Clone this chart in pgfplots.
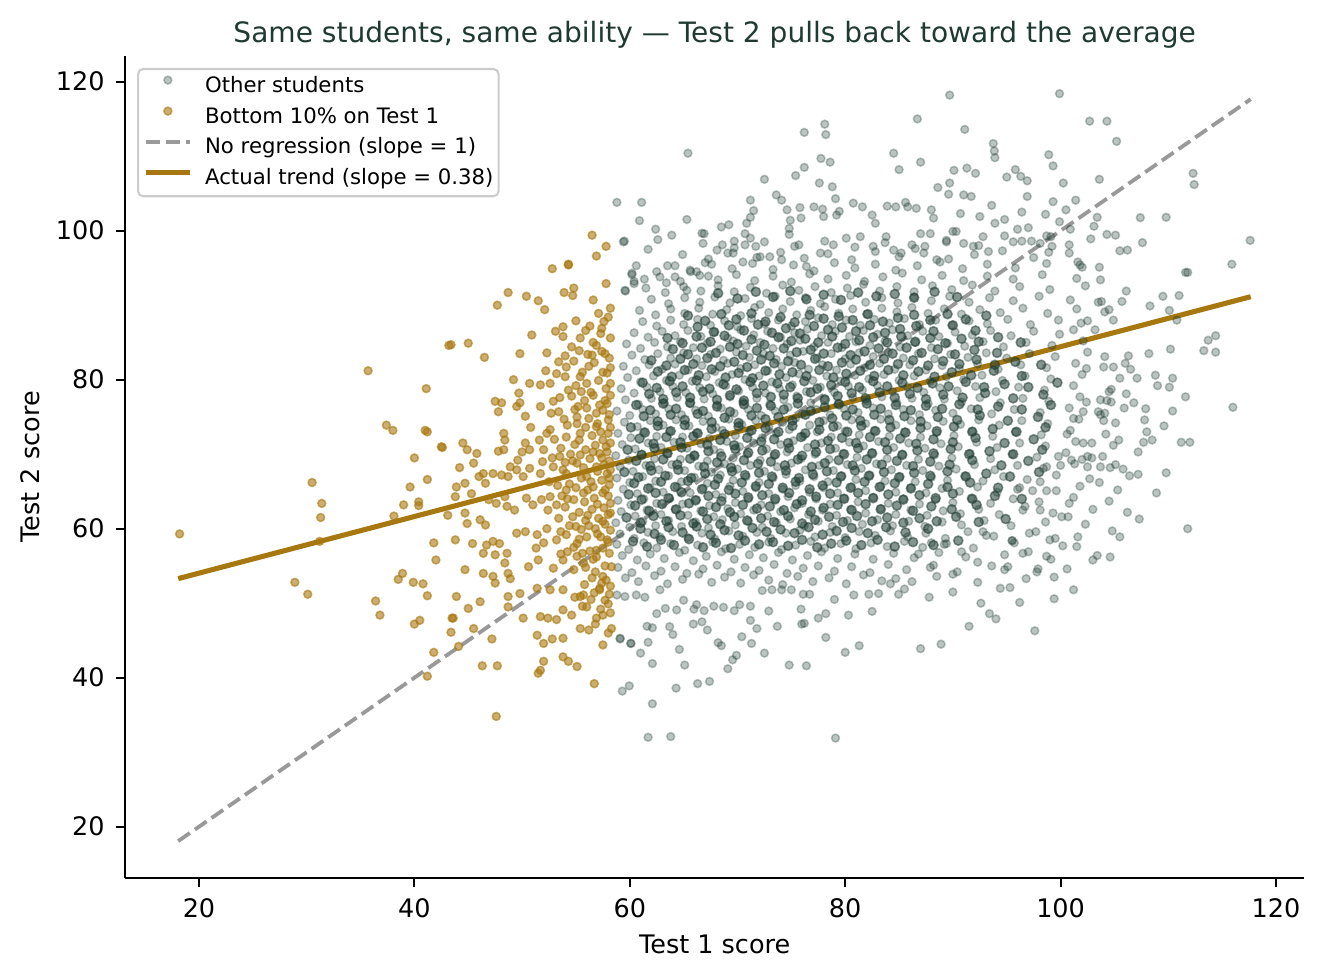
\documentclass[border=0pt]{standalone}
\usepackage{fontspec}
\setmainfont{DejaVu Sans}
\usepackage{pgfplots}
\pgfplotsset{compat=1.18}
\definecolor{darkc}{RGB}{31,61,51}
\definecolor{goldc}{RGB}{168,120,16}
\definecolor{titlec}{RGB}{31,58,50}
\definecolor{dashc}{RGB}{153,153,153}
\pgfplotsset{
  mylegmark/.style={legend image code/.code={\path[draw=none,fill=none] (0pt,2.6pt) -- (17.4pt,2.6pt); \draw[##1, draw=none] plot coordinates {(8.7pt,2.6pt)};}},
  myleglinee/.style={legend image code/.code={\draw[##1] (0pt,2.6pt) -- (17.4pt,2.6pt);}}
}
\begin{document}
\begin{tikzpicture}
\path[use as bounding box] (-49.02pt,-39.72pt) rectangle (469.8pt,344.2pt);
\begin{axis}[
  scale only axis,
  width=462.47pt, height=322.24pt,
  xmin=13.13, xmax=122.63, ymin=13.15, ymax=123.45,
  axis x line*=bottom, axis y line*=left,
  axis line style={-, line width=0.8pt, black},
  xtick={20,40,60,80,100,120}, ytick={20,40,60,80,100,120},
  tick align=outside, major tick length=3.5pt,
  major tick style={line width=0.8pt, black},
  /pgf/number format/assume math mode=true,
  ticklabel style={font=\fontsize{10}{12}\selectfont},
  xticklabel style={yshift=-1pt},
  yticklabel style={xshift=-1pt},
  title={Same students, same ability — Test 2 pulls back toward the average},
  title style={at={(axis description cs:0.5,1)}, anchor=base, yshift=-0.7pt, font=\fontsize{11}{13}\selectfont, text=titlec},
  xlabel={Test 1 score},
  xlabel style={at={([yshift=-29.9pt]axis description cs:0.5,0)}, anchor=base, font=\fontsize{10}{12}\selectfont},
  ylabel={Test 2 score},
  ylabel style={at={([xshift=-33.7pt]axis description cs:0,0.5)}, anchor=base, rotate=0, font=\fontsize{10}{12}\selectfont},
  legend cell align=left,
  legend style={at={(0.0102,0.9854)}, anchor=north west, draw=black!20, line width=0.8pt, rounded corners=2pt,
    fill=white, fill opacity=0.8, text opacity=1, inner xsep=2pt, inner ysep=2.8pt,
    font=\fontsize{8.33}{10}\selectfont, row sep=4pt,
    nodes={inner sep=0pt, text height=6.2pt, text depth=1.8pt},
    /tikz/every odd column/.append style={column sep=4.9pt}},
  clip=false,
]
% Other students (outer cloud)
\addplot[only marks, mark=*, mark size=1.55pt, mark options={draw=darkc, fill=darkc, line width=0.6pt, opacity=0.3}, mylegmark]
coordinates {
(59.6,53.4)(60.8,52.9)(62.3,53.7)(63.5,52.6)(64.9,53.2)(66.4,53.9)(67.6,52.8)(68.8,53.5)(70.3,52.7)(71.5,53.8)(72.9,53.1)(74.2,52.5)(75.6,53.6)(77.0,52.9)(78.5,53.4)(80.1,52.6)(81.7,53.8)(83.4,53.0)(86.2,52.9)(88.5,53.6)(92.3,52.8)(96.8,53.3)
(58.9,54.8)(60.2,54.1)(61.5,55.0)(62.9,54.3)(64.2,54.9)(65.3,54.0)(66.8,54.6)(68.1,55.1)(69.4,54.2)(70.7,54.8)(72.0,54.4)(73.4,55.2)(74.6,54.0)(76.1,54.7)(77.5,55.0)(79.0,54.3)(80.6,54.9)(82.3,54.1)(84.0,55.2)(85.7,54.5)(87.9,54.8)(90.4,54.2)(93.6,55.0)(97.9,54.6)
(59.3,56.4)(60.7,55.8)(61.9,56.6)(63.2,56.0)(64.6,56.8)(65.9,55.7)(67.1,56.3)(68.5,56.9)(69.7,55.9)(71.1,56.5)(72.4,56.1)(73.8,56.8)(75.1,55.8)(76.5,56.4)(77.8,56.9)(79.3,56.0)(80.9,56.6)(82.6,55.9)(84.5,56.7)(86.4,56.1)(88.7,56.8)(91.2,56.2)(94.8,56.5)(99.1,55.9)(103.4,56.4)
(58.8,57.9)(59.9,57.2)(61.3,58.1)(62.5,57.4)(63.8,58.0)(65.1,57.1)(66.3,57.8)(67.7,58.2)(68.9,57.3)(70.2,57.9)(71.6,57.5)(72.9,58.2)(74.1,57.2)(75.4,57.8)(76.8,58.3)(78.1,57.4)(79.6,58.0)(81.0,57.3)(82.4,58.1)(83.9,57.6)(85.5,58.3)(87.2,57.5)(89.4,58.0)(91.9,57.4)(95.7,58.1)(100.2,57.7)
(59.1,59.3)(60.4,58.7)(61.7,59.5)(62.8,58.9)(64.0,59.6)(65.4,58.8)(66.7,59.4)(67.9,58.6)(69.2,59.7)(70.5,59.0)(71.8,59.5)(73.1,58.7)(74.5,59.4)(75.8,59.8)(77.2,58.9)(78.6,59.5)(80.0,58.8)(81.3,59.6)(82.8,59.1)(84.2,59.7)(85.8,58.9)(87.5,59.4)(89.3,58.7)(91.4,59.6)(93.8,59.0)(97.1,59.4)(101.6,58.9)(104.8,59.7)
(58.7,60.8)(60.0,60.2)(61.2,61.0)(62.4,60.4)(63.6,61.1)(64.8,60.3)(66.1,60.9)(67.3,60.1)(68.6,61.2)(69.8,60.5)(71.0,61.0)(72.3,60.2)(73.6,60.8)(74.9,61.3)(76.2,60.4)(77.5,61.0)(78.8,60.3)(80.2,61.1)(81.6,60.6)(83.0,61.2)(84.4,60.4)(85.9,61.0)(87.4,60.3)(89.0,60.9)(90.8,60.5)(92.9,61.1)(95.4,60.4)(98.6,60.9)(102.3,60.6)
(59.2,62.3)(60.5,61.7)(61.6,62.5)(62.9,61.9)(64.2,62.6)(65.4,61.8)(66.6,62.4)(67.8,61.6)(69.1,62.7)(70.3,62.0)(71.5,62.5)(72.8,61.7)(74.0,62.3)(75.3,62.8)(76.6,61.9)(77.9,62.5)(79.2,61.8)(80.5,62.6)(81.9,62.1)(83.3,62.7)(84.7,61.9)(86.1,62.5)(87.6,61.8)(89.1,62.4)(90.7,62.0)(92.4,62.6)(94.3,61.9)(96.5,62.5)(99.3,62.1)(103.0,62.6)(106.2,62.2)
(58.9,63.8)(60.1,63.2)(61.3,64.0)(62.5,63.4)(63.7,64.1)(64.9,63.3)(66.2,63.9)(67.4,63.1)(68.6,64.2)(69.8,63.5)(71.0,64.0)(72.2,63.2)(73.5,63.8)(74.7,64.3)(76.0,63.4)(77.3,64.0)(78.6,63.3)(79.9,64.1)(81.2,63.6)(82.6,64.2)(84.0,63.4)(85.4,64.0)(86.9,63.3)(88.4,63.9)(90.0,63.5)(91.7,64.1)(93.5,63.4)(95.6,64.0)(98.0,63.6)(101.2,64.2)(104.5,63.7)
(59.4,65.3)(60.7,64.7)(61.9,65.5)(63.1,64.9)(64.4,65.6)(65.6,64.8)(66.8,65.4)(68.0,64.6)(69.3,65.7)(70.5,65.0)(71.7,65.5)(72.9,64.7)(74.2,65.3)(75.4,65.8)(76.7,64.9)(78.0,65.5)(79.3,64.8)(80.6,65.6)(81.9,65.1)(83.3,65.7)(84.7,64.9)(86.1,65.5)(87.5,64.8)(89.0,65.4)(90.6,65.0)(92.3,65.6)(94.1,64.9)(96.2,65.5)(98.7,65.1)(101.8,65.7)(105.3,65.2)(108.9,64.8)
(58.8,66.8)(60.0,66.2)(61.2,67.0)(62.4,66.4)(63.6,67.1)(64.8,66.3)(66.0,66.9)(67.2,66.1)(68.4,67.2)(69.6,66.5)(70.8,67.0)(72.0,66.2)(73.3,66.8)(74.5,67.3)(75.8,66.4)(77.1,67.0)(78.4,66.3)(79.7,67.1)(81.0,66.6)(82.3,67.2)(83.7,66.4)(85.1,67.0)(86.5,66.3)(88.0,66.9)(89.5,66.5)(91.1,67.1)(92.8,66.4)(94.7,67.0)(96.9,66.6)(99.6,67.2)(102.7,66.7)(106.4,67.1)
(59.1,68.3)(60.3,67.7)(61.5,68.5)(62.7,67.9)(63.9,68.6)(65.1,67.8)(66.4,68.4)(67.6,67.6)(68.8,68.7)(70.0,68.0)(71.2,68.5)(72.5,67.7)(73.7,68.3)(75.0,68.8)(76.3,67.9)(77.6,68.5)(78.9,67.8)(80.2,68.6)(81.5,68.1)(82.9,68.7)(84.3,67.9)(85.7,68.5)(87.2,67.8)(88.7,68.4)(90.3,68.0)(92.0,68.6)(93.9,67.9)(96.0,68.5)(98.4,68.1)(101.3,68.7)(104.6,68.2)(109.8,67.5)
(58.7,69.8)(59.9,69.2)(61.1,70.0)(62.3,69.4)(63.5,70.1)(64.7,69.3)(66.0,69.9)(67.2,69.1)(68.4,70.2)(69.6,69.5)(70.9,70.0)(72.1,69.2)(73.4,69.8)(74.6,70.3)(75.9,69.4)(77.2,70.0)(78.5,69.3)(79.8,70.1)(81.1,69.6)(82.5,70.2)(83.9,69.4)(85.3,70.0)(86.8,69.3)(88.3,69.9)(89.9,69.5)(91.6,70.1)(93.5,69.4)(95.5,70.0)(97.8,69.6)(100.5,70.2)(103.9,69.7)(107.2,70.3)
(59.3,71.3)(60.5,70.7)(61.7,71.5)(62.9,70.9)(64.1,71.6)(65.3,70.8)(66.6,71.4)(67.8,70.6)(69.0,71.7)(70.2,71.0)(71.5,71.5)(72.7,70.7)(74.0,71.3)(75.2,71.8)(76.5,70.9)(77.8,71.5)(79.1,70.8)(80.4,71.6)(81.7,71.1)(83.1,71.7)(84.5,70.9)(85.9,71.5)(87.4,70.8)(88.9,71.4)(90.5,71.0)(92.2,71.6)(94.1,70.9)(96.2,71.5)(98.6,71.1)(101.4,71.7)(104.9,71.2)(112.0,71.6)
(58.9,72.8)(60.1,72.2)(61.3,73.0)(62.5,72.4)(63.7,73.1)(64.9,72.3)(66.2,72.9)(67.4,72.1)(68.6,73.2)(69.8,72.5)(71.1,73.0)(72.3,72.2)(73.6,72.8)(74.8,73.3)(76.1,72.4)(77.4,73.0)(78.7,72.3)(80.0,73.1)(81.3,72.6)(82.7,73.2)(84.1,72.4)(85.5,73.0)(87.0,72.3)(88.5,72.9)(90.1,72.5)(91.8,73.1)(93.7,72.4)(95.8,73.0)(98.2,72.6)(100.9,73.2)(104.2,72.7)(108.0,73.0)
(59.5,74.3)(60.7,73.7)(61.9,74.5)(63.1,73.9)(64.3,74.6)(65.5,73.8)(66.8,74.4)(68.0,73.6)(69.2,74.7)(70.4,74.0)(71.7,74.5)(72.9,73.7)(74.2,74.3)(75.4,74.8)(76.7,73.9)(78.0,74.5)(79.3,73.8)(80.6,74.6)(81.9,74.1)(83.3,74.7)(84.7,73.9)(86.1,74.5)(87.6,73.8)(89.1,74.4)(90.7,74.0)(92.4,74.6)(94.3,73.9)(96.4,74.5)(98.8,74.1)(101.7,74.7)(105.1,74.2)(109.6,73.8)
(58.8,75.8)(60.0,75.2)(61.2,76.0)(62.4,75.4)(63.6,76.1)(64.8,75.3)(66.1,75.9)(67.3,75.1)(68.5,76.2)(69.7,75.5)(71.0,76.0)(72.2,75.2)(73.5,75.8)(74.7,76.3)(76.0,75.4)(77.3,76.0)(78.6,75.3)(79.9,76.1)(81.2,75.6)(82.6,76.2)(84.0,75.4)(85.4,76.0)(86.9,75.3)(88.4,75.9)(90.0,75.5)(91.7,76.1)(93.6,75.4)(95.7,76.0)(98.1,75.6)(100.8,76.2)(103.5,75.7)(107.9,76.1)
(59.6,77.3)(60.8,76.7)(62.0,77.5)(63.2,76.9)(64.4,77.6)(65.6,76.8)(66.9,77.4)(68.1,76.6)(69.3,77.7)(70.5,77.0)(71.8,77.5)(73.0,76.7)(74.3,77.3)(75.5,77.8)(76.8,76.9)(78.1,77.5)(79.4,76.8)(80.7,77.6)(82.0,77.1)(83.4,77.7)(84.8,76.9)(86.2,77.5)(87.7,76.8)(89.2,77.4)(90.8,77.0)(92.5,77.6)(94.4,76.9)(96.5,77.5)(98.9,77.1)(101.8,77.7)(104.3,77.2)(106.8,76.9)
(59.2,78.8)(60.4,78.2)(61.6,79.0)(62.8,78.4)(64.0,79.1)(65.2,78.3)(66.5,78.9)(67.7,78.1)(68.9,79.2)(70.1,78.5)(71.4,79.0)(72.6,78.2)(73.9,78.8)(75.1,79.3)(76.4,78.4)(77.7,79.0)(79.0,78.3)(80.3,79.1)(81.6,78.6)(83.0,79.2)(84.4,78.4)(85.8,79.0)(87.3,78.3)(88.8,78.9)(90.4,78.5)(92.1,79.1)(94.0,78.4)(96.1,79.0)(98.5,78.6)(101.2,79.2)(104.7,78.7)(110.1,79.0)
(59.8,80.3)(61.0,79.7)(62.2,80.5)(63.4,79.9)(64.6,80.6)(65.8,79.8)(67.1,80.4)(68.3,79.6)(69.5,80.7)(70.7,80.0)(72.0,80.5)(73.2,79.7)(74.5,80.3)(75.7,80.8)(77.0,79.9)(78.3,80.5)(79.6,79.8)(80.9,80.6)(82.2,80.1)(83.6,80.7)(85.0,79.9)(86.4,80.5)(87.9,79.8)(89.4,80.4)(91.0,80.0)(92.7,80.6)(94.6,79.9)(96.7,80.5)(99.1,80.1)(102.0,80.7)(105.5,80.2)(108.8,80.6)
(59.4,81.8)(60.6,81.2)(61.8,82.0)(63.0,81.4)(64.2,82.1)(65.4,81.3)(66.7,81.9)(67.9,81.1)(69.1,82.2)(70.3,81.5)(71.6,82.0)(72.8,81.2)(74.1,81.8)(75.3,82.3)(76.6,81.4)(77.9,82.0)(79.2,81.3)(80.5,82.1)(81.8,81.6)(83.2,82.2)(84.6,81.4)(86.0,82.0)(87.5,81.3)(89.0,81.9)(90.6,81.5)(92.3,82.1)(94.2,81.4)(96.3,82.0)(98.7,81.6)(101.4,82.2)(104.0,81.7)
(60.2,83.3)(61.4,82.7)(62.6,83.5)(63.8,82.9)(65.0,83.6)(66.2,82.8)(67.5,83.4)(68.7,82.6)(69.9,83.7)(71.1,83.0)(72.4,83.5)(73.6,82.7)(74.9,83.3)(76.1,83.8)(77.4,82.9)(78.7,83.5)(80.0,82.8)(81.3,83.6)(82.6,83.1)(84.0,83.7)(85.4,82.9)(86.8,83.5)(88.3,82.8)(89.8,83.4)(91.4,83.0)(93.1,83.6)(95.0,82.9)(97.1,83.5)(99.5,83.1)(102.5,83.7)(106.3,83.2)
(59.7,84.8)(61.0,84.2)(62.3,85.0)(63.5,84.4)(64.7,85.1)(65.9,84.3)(67.2,84.9)(68.4,84.1)(69.6,85.2)(70.8,84.5)(72.1,85.0)(73.3,84.2)(74.6,84.8)(75.8,85.3)(77.1,84.4)(78.4,85.0)(79.7,84.3)(81.0,85.1)(82.3,84.6)(83.7,85.2)(85.1,84.4)(86.5,85.0)(88.0,84.3)(89.5,84.9)(91.1,84.5)(92.8,85.1)(94.7,84.4)(96.8,85.0)(99.2,84.6)(102.1,85.2)
(60.4,86.3)(61.7,85.7)(63.0,86.5)(64.2,85.9)(65.4,86.6)(66.6,85.8)(67.9,86.4)(69.1,85.6)(70.3,86.7)(71.5,86.0)(72.8,86.5)(74.0,85.7)(75.3,86.3)(76.5,86.8)(77.8,85.9)(79.1,86.5)(80.4,85.8)(81.7,86.6)(83.0,86.1)(84.4,86.7)(85.8,85.9)(87.2,86.5)(88.7,85.8)(90.2,86.4)(91.8,86.0)(93.5,86.6)(95.4,85.9)(97.5,86.5)(99.9,86.1)(103.2,86.7)
(61.2,87.8)(62.5,87.2)(63.8,88.0)(65.0,87.4)(66.3,88.1)(67.5,87.3)(68.8,87.9)(70.0,87.1)(71.3,88.2)(72.5,87.5)(73.8,88.0)(75.0,87.2)(76.3,87.8)(77.5,88.3)(78.8,87.4)(80.1,88.0)(81.4,87.3)(82.7,88.1)(84.1,87.6)(85.5,88.2)(86.9,87.4)(88.4,88.0)(89.9,87.3)(91.5,87.9)(93.2,87.5)(95.1,88.1)(97.2,87.4)(99.8,88.0)(101.9,87.6)
(60.9,89.3)(62.4,88.7)(63.8,89.5)(65.1,88.9)(66.4,89.6)(67.7,88.8)(69.0,89.4)(70.3,88.6)(71.6,89.7)(72.9,89.0)(74.2,89.5)(75.5,88.7)(76.8,89.3)(78.1,89.8)(79.4,88.9)(80.7,89.5)(82.0,88.8)(83.4,89.6)(84.8,89.1)(86.2,89.7)(87.7,88.9)(89.2,89.5)(90.8,88.8)(92.5,89.4)(94.4,89.0)(96.5,89.6)(98.8,88.9)(101.5,89.5)(104.1,89.1)
(62.0,90.8)(63.6,90.2)(65.1,91.0)(66.5,90.4)(67.9,91.1)(69.3,90.3)(70.7,90.9)(72.1,90.1)(73.5,91.2)(74.9,90.5)(76.3,91.0)(77.7,90.2)(79.1,90.8)(80.5,91.3)(81.9,90.4)(83.4,91.0)(84.9,90.3)(86.4,91.1)(88.0,90.6)(89.7,91.2)(91.5,90.4)(93.4,91.0)(95.6,90.6)(98.0,91.2)(100.9,90.7)
(61.5,92.3)(63.3,91.7)(65.0,92.5)(66.6,91.9)(68.2,92.6)(69.7,91.8)(71.2,92.4)(72.7,91.6)(74.2,92.7)(75.7,92.0)(77.2,92.5)(78.7,91.7)(80.2,92.3)(81.7,92.8)(83.2,91.9)(84.8,92.5)(86.4,91.8)(88.1,92.6)(89.9,92.1)(91.8,92.7)(93.9,91.9)(96.2,92.5)(99.0,92.1)(102.3,92.6)
(62.8,93.8)(64.7,93.2)(66.5,94.0)(68.2,93.4)(69.9,94.1)(71.6,93.3)(73.3,93.9)(75.0,93.1)(76.7,94.2)(78.4,93.5)(80.1,94.0)(81.8,93.2)(83.5,93.8)(85.3,94.3)(87.1,93.4)(89.0,94.0)(91.0,93.3)(93.2,93.9)(95.6,93.5)(98.3,94.1)(101.5,93.6)
(63.5,95.3)(65.6,94.7)(67.6,95.5)(69.5,94.9)(71.4,95.6)(73.3,94.8)(75.2,95.4)(77.1,94.6)(79.0,95.7)(80.9,95.0)(82.8,95.5)(84.7,94.7)(86.7,95.3)(88.8,95.8)(90.9,94.9)(93.2,95.5)(95.8,95.0)(98.7,95.6)(102.0,95.1)
(64.9,96.8)(67.3,96.2)(69.6,97.0)(71.8,96.4)(74.0,97.1)(76.2,96.3)(78.4,96.9)(80.6,96.1)(82.8,97.2)(85.0,96.5)(87.3,97.0)(89.6,96.2)(92.0,96.8)(94.6,97.3)(97.5,96.4)(100.8,97.0)
(66.8,98.3)(69.7,97.7)(72.5,98.5)(75.3,97.9)(78.1,98.6)(80.9,97.8)(83.7,98.4)(86.5,97.6)(89.4,98.7)(92.4,98.0)(95.6,98.5)(99.2,97.9)
(89.7,118.2)(86.7,115.0)(91.1,113.6)(78.1,114.3)(78.2,112.9)(76.2,113.2)(65.4,110.4)(77.75,109.7)(78.6,109.2)(76.2,108.5)(75.4,107.4)(84.5,110.4)(85.0,108.2)(87.0,109.2)(90.1,108.1)(91.3,108.4)(92.1,107.7)(89.7,106.4)(89.6,104.9)(88.6,105.8)(91.0,104.8)(91.7,104.6)(93.75,111.7)(93.85,110.7)(93.9,109.8)(72.5,106.9)(77.6,106.4)(78.8,105.9)(73.6,104.8)(74.1,104.1)(79.1,104.3)(71.2,104.1)(71.5,102.7)(71.2,101.8)(70.85,101.0)(70.7,99.6)(71.2,99.0)(58.8,103.8)(61.1,103.8)(60.9,101.35)(65.3,101.5)(59.5,98.6)(61.7,97.5)(62.4,100.2)(62.6,98.8)(63.9,99.4)(66.7,99.65)(66.9,99.6)(68.5,100.5)(69.2,100.8)(69.7,98.6)(70.7,98.1)(71.7,97.9)(68.1,97.4)(69.1,97.0)(68.6,98.1)(74.6,102.8)(74.9,101.4)(74.8,100.3)(74.8,99.5)(75.8,103.1)(75.9,101.7)(77.1,103.2)(77.9,102.9)(78.0,101.9)(79.2,102.1)(79.45,102.6)(80.75,103.7)(81.6,103.2)(82.5,102.1)(82.8,101.0)(83.9,103.3)(84.7,103.2)(85.6,103.8)(85.8,103.2)(86.6,103.0)(60.2,94.1)(60.6,95.3)(60.4,92.9)(61.35,93.5)(59.55,92.0)(62.5,94.5)(63.4,93.0)(64.2,95.3)(64.2,93.8)(65.3,92.0)(65.65,94.5)(66.2,94.5)(67.0,95.7)(67.3,93.9)
(82.6,97.9)(83.8,99.2)(84.5,97.4)(85.2,97.0)(86.2,98.1)(87.4,97.9)(87.9,99.6)(88.5,96.1)(89.4,98.5)(90.3,99.9)(91.0,98.3)(91.9,97.9)(92.8,99.2)(93.3,97.2)(80.1,99.0)(81.4,99.2)(78.9,98.1)(77.7,97.0)(76.4,95.2)(75.7,98.1)(74.1,96.1)(73.0,96.5)(72.1,96.5)(70.5,95.8)(93.6,103.4)(92.5,101.9)(90.7,102.3)(90.0,99.9)(88.0,102.8)(88.2,101.7)(87.0,99.6)(93.9,101.0)
(99.9,118.4)(102.7,114.7)(104.3,114.7)(105.2,112.0)(112.3,107.7)(112.4,106.2)(98.9,110.2)(99.3,108.7)(100.25,106.4)(103.6,106.9)(95.8,108.2)(95.0,107.2)(96.3,107.3)(96.9,106.7)(96.9,104.6)(99.3,103.9)(101.4,104.1)(98.6,102.2)(100.5,102.8)(96.4,102.5)(94.8,101.5)(99.9,101.2)(103.4,101.8)(103.1,100.6)(107.4,101.75)(109.8,101.8)(107.6,98.4)(96.0,100.2)(97.0,100.4)(94.8,99.3)(96.4,98.6)(97.3,98.6)(98.1,98.3)(98.7,99.3)(99.1,99.2)(98.9,97.1)(100.9,100.2)(100.8,98.1)(102.8,98.9)(104.3,99.5)(105.1,99.4)(105.5,97.3)(106.2,97.4)(117.6,98.7)(115.9,95.5)(111.6,94.4)(111.8,94.4)(101.6,95.8)(101.8,95.4)(103.6,95.1)(103.7,93.4)(106.1,91.9)(105.7,90.5)(109.5,91.2)(111.0,91.3)(108.3,89.9)(110.1,89.3)(110.8,88.0)(104.5,89.4)(104.9,88.0)(102.5,87.9)(101.2,86.7)(103.5,90.4)(103.8,90.5)(113.3,83.9)(113.7,85.3)(114.4,85.9)(114.4,83.7)(108.2,83.5)(110.2,84.1)(104.1,83.1)(102.4,81.5)(104.9,81.7)(106.0,82.2)(106.5,81.4)(107.1,80.2)(109.0,79.2)(110.4,80.2)(111.6,77.7)(116.0,76.3)(106.1,78.1)(105.9,76.2)(104.7,77.0)(104.1,75.5)(103.7,77.3)(104.5,78.4)(107.8,74.6)(110.4,75.8)(105.4,71.9)(107.7,71.6)(108.5,71.9)(111.2,71.6)(107.2,67.3)(103.6,66.2)(105.8,68.0)(105.1,68.6)(103.7,68.3)(107.3,61.3)(111.8,60.0)
(102.1,71.5)(102.9,71.5)(102.5,68.3)(102.9,69.5)(101.0,69.2)(100.6,72.7)(99.8,69.7)(100.0,68.5)(98.7,68.3)(98.1,66.3)(99.6,65.1)(100.8,63.4)(100.1,61.6)(100.7,61.6)(99.5,58.7)(99.0,58.5)(97.7,59.6)(98.7,56.3)(96.5,56.7)(95.5,58.4)(98.1,62.5)(97.4,65.1)(96.7,63.0)(96.0,65.3)(102.0,69.3)(102.5,69.7)(101.2,74.8)(102.1,75.7)(102.4,77.0)(103.7,75.3)(104.0,74.5)
(61.7,32.0)(63.8,32.1)(79.1,31.9)(62.1,36.5)(59.3,38.2)(59.95,38.9)(64.3,38.6)(66.3,39.2)(67.4,39.5)(69.1,41.2)(69.55,42.4)(69.9,43.0)(74.8,41.7)(76.4,41.6)(80.0,43.4)(81.3,44.3)(87.0,43.9)(61.0,43.3)(62.1,41.9)(65.1,41.7)(64.6,43.8)(60.1,44.6)(61.7,44.75)(59.1,45.2)(61.6,46.9)(62.1,46.7)(63.7,46.85)(64.0,45.8)(65.9,47.2)(66.7,47.5)(67.2,46.4)(68.2,44.7)(68.5,44.3)(70.4,45.5)(71.3,44.6)(71.2,47.7)(71.8,46.6)(72.5,43.3)(73.7,46.9)(75.96,47.2)(76.2,47.3)(78.2,45.4)(77.5,48.0)(78.2,48.6)(80.3,48.4)(82.5,48.9)(79.0,50.5)(80.8,51.1)(82.2,51.2)(83.1,51.3)(84.2,52.6)(84.7,53.3)(84.96,51.2)(85.5,51.9)(87.8,50.8)(90.0,51.5)(90.0,53.9)(94.4,52.0)(94.8,54.5)(90.8,56.9)(92.3,55.5)(92.8,59.6)(93.1,59.1)(95.5,58.4)(86.8,56.6)(88.0,58.1)(88.2,55.1)(89.2,57.9)(72.9,48.95)(75.9,49.2)
(62.5,48.6)(63.3,49.3)(64.35,49.1)(65.95,49.2)(66.9,49.0)(67.8,49.6)(68.7,49.45)(69.7,49.0)(70.2,49.8)(71.2,49.6)(58.8,51.1)(59.55,50.9)(60.6,51.1)(61.4,50.8)(62.8,51.8)(65.0,50.4)(66.2,49.8)(72.3,51.7)(73.2,51.8)(74.1,51.8)(75.0,51.8)(76.1,51.2)(76.7,51.2)(59.1,45.3)(60.1,44.6)(59.4,98.5)(60.2,94.3)(60.4,93.2)(59.6,91.9)
(99.4,53.5)(101.2,51.8)(96.2,50.1)(104.6,56.2)(93.4,48.6)(97.6,46.3)(91.5,46.9)(88.9,44.5)(95.1,54.9)(101.5,57.6)(97.8,54.2)(95.3,52.1)(99.4,50.6)(92.6,50.0)(94.0,47.9)(103.0,55.8)(105.5,58.9)(97.0,56.9)(100.6,54.6)
};
\addlegendentry{Other students}
% Other students: dense core (same series, drawn denser)
\addplot[only marks, mark=*, mark size=1.8pt, mark options={draw=darkc, fill=darkc, line width=0.6pt, opacity=0.55}, forget plot]
coordinates {
(60.3,58.3)(61.6,57.6)(62.9,58.5)(64.1,57.8)(65.5,58.6)(66.8,57.5)(68.0,58.1)(69.4,57.4)(70.7,58.4)(72.0,57.9)(73.3,58.2)(74.7,57.7)(76.0,58.5)(77.4,57.5)(78.7,58.0)(80.1,58.4)(81.5,57.8)(83.0,58.5)(84.6,57.6)(86.3,58.2)(88.2,57.8)(90.5,58.4)
(59.7,61.5)(61.0,60.8)(62.2,61.7)(63.4,61.0)(64.7,61.8)(65.9,60.7)(67.2,61.3)(68.4,60.6)(69.7,61.6)(70.9,61.1)(72.2,61.4)(73.4,60.9)(74.7,61.7)(76.0,60.7)(77.2,61.2)(78.5,61.6)(79.8,60.9)(81.1,61.7)(82.5,61.0)(83.9,61.5)(85.4,60.8)(86.9,61.4)(88.5,61.0)(90.3,61.6)(92.4,60.9)(94.9,61.3)
(59.9,64.6)(61.1,63.9)(62.4,64.8)(63.6,64.1)(64.8,64.9)(66.1,63.8)(67.3,64.4)(68.5,63.7)(69.8,64.7)(71.0,64.2)(72.3,64.5)(73.5,64.0)(74.8,64.8)(76.0,63.8)(77.3,64.3)(78.6,64.7)(79.9,64.0)(81.2,64.8)(82.6,64.1)(84.0,64.6)(85.4,63.9)(86.9,64.5)(88.4,64.1)(90.0,64.7)(91.8,64.0)(93.9,64.4)(96.4,64.0)
(59.5,67.6)(60.8,66.9)(62.0,67.8)(63.3,67.1)(64.5,67.9)(65.7,66.8)(67.0,67.4)(68.2,66.7)(69.5,67.7)(70.7,67.2)(72.0,67.5)(73.2,67.0)(74.5,67.8)(75.7,66.8)(77.0,67.3)(78.3,67.7)(79.6,67.0)(80.9,67.8)(82.2,67.1)(83.6,67.6)(85.0,66.9)(86.4,67.5)(87.9,67.1)(89.5,67.7)(91.2,67.0)(93.1,67.4)(95.3,67.0)(98.0,67.6)
(59.8,70.6)(61.1,69.9)(62.3,70.8)(63.5,70.1)(64.8,70.9)(66.0,69.8)(67.3,70.4)(68.5,69.7)(69.8,70.7)(71.0,70.2)(72.3,70.5)(73.5,70.0)(74.8,70.8)(76.0,69.8)(77.3,70.3)(78.6,70.7)(79.9,70.0)(81.2,70.8)(82.5,70.1)(83.9,70.6)(85.3,69.9)(86.7,70.5)(88.2,70.1)(89.8,70.7)(91.5,70.0)(93.4,70.4)(95.6,70.0)(98.3,70.6)
(60.1,73.6)(61.4,72.9)(62.6,73.8)(63.8,73.1)(65.1,73.9)(66.3,72.8)(67.6,73.4)(68.8,72.7)(70.1,73.7)(71.3,73.2)(72.6,73.5)(73.8,73.0)(75.1,73.8)(76.3,72.8)(77.6,73.3)(78.9,73.7)(80.2,73.0)(81.5,73.8)(82.8,73.1)(84.2,73.6)(85.6,72.9)(87.0,73.5)(88.5,73.1)(90.1,73.7)(91.8,73.0)(93.7,73.4)(95.9,73.0)(98.6,73.6)
(60.6,76.6)(61.9,75.9)(63.1,76.8)(64.3,76.1)(65.6,76.9)(66.8,75.8)(68.1,76.4)(69.3,75.7)(70.6,76.7)(71.8,76.2)(73.1,76.5)(74.3,76.0)(75.6,76.8)(76.8,75.8)(78.1,76.3)(79.4,76.7)(80.7,76.0)(82.0,76.8)(83.3,76.1)(84.7,76.6)(86.1,75.9)(87.5,76.5)(89.0,76.1)(90.6,76.7)(92.3,76.0)(94.2,76.4)(96.4,76.0)(99.1,76.6)
(61.2,79.6)(62.5,78.9)(63.7,79.8)(64.9,79.1)(66.2,79.9)(67.4,78.8)(68.7,79.4)(69.9,78.7)(71.2,79.7)(72.4,79.2)(73.7,79.5)(74.9,79.0)(76.2,79.8)(77.4,78.8)(78.7,79.3)(80.0,79.7)(81.3,79.0)(82.6,79.8)(83.9,79.1)(85.3,79.6)(86.7,78.9)(88.1,79.5)(89.6,79.1)(91.2,79.7)(92.9,79.0)(94.8,79.4)(97.0,79.0)(99.7,79.6)
(62.0,82.6)(63.4,81.9)(64.7,82.8)(65.9,82.1)(67.2,82.9)(68.4,81.8)(69.7,82.4)(70.9,81.7)(72.2,82.7)(73.4,82.2)(74.7,82.5)(75.9,82.0)(77.2,82.8)(78.4,81.8)(79.7,82.3)(81.0,82.7)(82.3,82.0)(83.6,82.8)(84.9,82.1)(86.3,82.6)(87.7,81.9)(89.1,82.5)(90.6,82.1)(92.2,82.7)(93.9,82.0)(95.8,82.4)(98.2,82.0)
(63.5,85.6)(64.9,84.9)(66.2,85.8)(67.5,85.1)(68.8,85.9)(70.0,84.8)(71.3,85.4)(72.5,84.7)(73.8,85.7)(75.0,85.2)(76.3,85.5)(77.5,85.0)(78.8,85.8)(80.0,84.8)(81.3,85.3)(82.6,85.7)(83.9,85.0)(85.2,85.8)(86.5,85.1)(87.9,85.6)(89.3,84.9)(90.8,85.5)(92.4,85.1)(94.2,85.7)(96.3,85.0)
(65.4,88.6)(67.0,87.9)(68.5,88.8)(69.9,88.1)(71.3,88.9)(72.6,87.8)(74.0,88.4)(75.3,87.7)(76.7,88.7)(78.0,88.2)(79.4,88.5)(80.7,88.0)(82.1,88.8)(83.5,87.8)(84.9,88.3)(86.4,88.7)(87.9,88.0)(89.5,88.8)(91.2,88.1)(93.1,88.6)
(68.2,91.6)(70.0,90.9)(71.7,91.8)(73.3,91.1)(74.9,91.9)(76.4,90.8)(78.0,91.4)(79.6,90.7)(81.2,91.7)(82.9,91.2)(84.6,91.5)(86.4,91.0)(88.3,91.8)(90.4,91.1)
(61.0,60.0)(62.3,59.3)(63.6,60.2)(64.9,59.5)(66.2,60.3)(67.5,59.2)(68.8,59.8)(70.1,59.1)(71.4,60.1)(72.7,59.6)(74.0,59.9)(75.3,59.4)(76.6,60.2)(77.9,59.2)(79.2,59.7)(80.6,60.1)(82.1,59.4)(83.8,60.2)(85.6,59.5)(87.7,60.0)
(60.5,63.1)(61.8,62.4)(63.0,63.3)(64.3,62.6)(65.5,63.4)(66.8,62.3)(68.0,62.9)(69.3,62.2)(70.5,63.2)(71.8,62.7)(73.0,63.0)(74.3,62.5)(75.5,63.3)(76.8,62.3)(78.0,62.8)(79.3,63.2)(80.6,62.5)(81.9,63.3)(83.3,62.6)(84.8,63.1)(86.3,62.4)(88.0,63.0)(89.9,62.6)(92.2,63.2)
(60.4,66.1)(61.7,65.4)(62.9,66.3)(64.2,65.6)(65.4,66.4)(66.7,65.3)(67.9,65.9)(69.2,65.2)(70.4,66.2)(71.7,65.7)(72.9,66.0)(74.2,65.5)(75.4,66.3)(76.7,65.3)(77.9,65.8)(79.2,66.2)(80.5,65.5)(81.8,66.3)(83.2,65.6)(84.6,66.1)(86.1,65.4)(87.7,66.0)(89.5,65.6)(91.6,66.2)(94.2,65.5)
(60.6,69.1)(61.9,68.4)(63.1,69.3)(64.4,68.6)(65.6,69.4)(66.9,68.3)(68.1,68.9)(69.4,68.2)(70.6,69.2)(71.9,68.7)(73.1,69.0)(74.4,68.5)(75.6,69.3)(76.9,68.3)(78.1,68.8)(79.4,69.2)(80.7,68.5)(82.0,69.3)(83.4,68.6)(84.8,69.1)(86.3,68.4)(87.9,69.0)(89.7,68.6)(91.8,69.2)(94.5,68.5)(97.0,69.1)
(60.9,72.1)(62.2,71.4)(63.4,72.3)(64.7,71.6)(65.9,72.4)(67.2,71.3)(68.4,71.9)(69.7,71.2)(70.9,72.2)(72.2,71.7)(73.4,72.0)(74.7,71.5)(75.9,72.3)(77.2,71.3)(78.4,71.8)(79.7,72.2)(81.0,71.5)(82.3,72.3)(83.7,71.6)(85.1,72.1)(86.6,71.4)(88.2,72.0)(90.0,71.6)(92.1,72.2)(94.8,71.5)(97.5,72.0)
(61.3,75.1)(62.6,74.4)(63.8,75.3)(65.1,74.6)(66.3,75.4)(67.6,74.3)(68.8,74.9)(70.1,74.2)(71.3,75.2)(72.6,74.7)(73.8,75.0)(75.1,74.5)(76.3,75.3)(77.6,74.3)(78.8,74.8)(80.1,75.2)(81.4,74.5)(82.7,75.3)(84.1,74.6)(85.5,75.1)(87.0,74.4)(88.6,75.0)(90.4,74.6)(92.5,75.2)(95.1,74.5)(97.9,75.0)
(61.8,78.1)(63.1,77.4)(64.3,78.3)(65.6,77.6)(66.8,78.4)(68.1,77.3)(69.3,77.9)(70.6,77.2)(71.8,78.2)(73.1,77.7)(74.3,78.0)(75.6,77.5)(76.8,78.3)(78.1,77.3)(79.3,77.8)(80.6,78.2)(81.9,77.5)(83.2,78.3)(84.6,77.6)(86.0,78.1)(87.5,77.4)(89.1,78.0)(90.9,77.6)(93.0,78.2)(95.6,77.5)(98.4,78.0)
(62.6,81.1)(63.9,80.4)(65.1,81.3)(66.4,80.6)(67.6,81.4)(68.9,80.3)(70.1,80.9)(71.4,80.2)(72.6,81.2)(73.9,80.7)(75.1,81.0)(76.4,80.5)(77.6,81.3)(78.9,80.3)(80.1,80.8)(81.4,81.2)(82.7,80.5)(84.0,81.3)(85.4,80.6)(86.8,81.1)(88.3,80.4)(89.9,81.0)(91.7,80.6)(93.8,81.2)(96.4,80.5)
(64.0,84.1)(65.4,83.4)(66.7,84.3)(68.0,83.6)(69.3,84.4)(70.5,83.3)(71.8,83.9)(73.0,83.2)(74.3,84.2)(75.5,83.7)(76.8,84.0)(78.0,83.5)(79.3,84.3)(80.5,83.3)(81.8,83.8)(83.1,84.2)(84.4,83.5)(85.7,84.3)(87.1,83.6)(88.6,84.1)(90.2,83.4)(92.0,84.0)(94.1,83.6)
(66.3,87.1)(67.8,86.4)(69.2,87.3)(70.6,86.6)(71.9,87.4)(73.2,86.3)(74.5,86.9)(75.8,86.2)(77.1,87.2)(78.4,86.7)(79.7,87.0)(81.0,86.5)(82.3,87.3)(83.7,86.3)(85.1,86.8)(86.6,87.2)(88.2,86.5)(90.0,87.3)(92.1,86.6)
};
% Bottom 10% on Test 1
\addplot[only marks, mark=*, mark size=1.55pt, mark options={draw=goldc, fill=goldc, line width=0.6pt, opacity=0.6}, mylegmark]
coordinates {
(18.2,59.3)(35.7,81.2)(41.1,78.8)(37.4,73.9)(38.0,73.2)(41.0,73.2)(41.2,73.0)(42.5,71.0)(40.0,69.5)(41.2,66.6)(39.6,65.6)(30.5,66.2)(31.4,63.4)(31.3,61.5)(39.0,63.2)(40.4,63.6)(40.4,63.1)(38.1,61.7)(31.2,58.3)(41.8,58.1)(28.9,52.8)(30.1,51.2)(38.9,54.0)(38.5,53.2)(39.9,52.8)(40.8,52.6)(36.4,50.3)(36.8,48.4)(40.0,47.2)(40.5,47.7)(41.8,43.4)(41.2,40.2)(43.2,84.6)(43.5,48.0)
(56.5,99.4)(57.8,97.9)(56.9,96.6)(52.8,94.9)(54.3,95.5)(57.8,92.9)(48.7,91.7)(50.4,91.2)(47.7,90.0)(51.5,90.6)(52.1,89.4)(53.9,91.7)(54.8,92.3)(54.7,91.3)(56.6,90.7)(58.2,89.6)(53.8,87.1)(53.1,86.5)(56.3,87.2)(57.4,86.9)(57.6,87.8)(50.9,86.0)(43.4,84.7)(45.0,84.9)(46.5,83.0)(49.8,83.5)(52.3,83.6)(53.8,85.8)(54.6,84.4)(55.4,85.6)(56.5,83.3)(57.7,83.5)
(49.2,80.0)(50.7,79.5)(51.7,79.3)(52.6,79.5)(54.1,81.7)(54.0,80.4)(55.4,80.4)(56.2,81.8)(57.9,80.9)(58.2,79.5)(49.7,78.2)(49.8,76.9)(47.5,77.1)(48.1,76.9)(47.8,75.7)(51.7,76.4)(52.9,77.1)(53.4,75.7)(49.5,76.4)(50.3,75.1)(55.1,75.0)(56.0,76.2)(56.9,75.5)(57.9,76.8)
(42.6,70.9)(44.5,71.5)(44.9,70.6)(45.8,70.1)(48.3,72.8)(48.4,71.9)(48.3,70.6)(50.3,71.5)(50.0,70.3)(50.7,70.6)(52.0,70.6)(52.6,73.3)(52.3,72.8)(54.1,72.3)(55.1,74.1)(55.4,72.8)(56.9,73.7)(57.5,71.9)(58.0,72.8)
(45.5,68.8)(46.4,67.4)(46.0,67.0)(46.6,66.1)(47.3,67.4)(48.1,67.2)(48.9,68.3)(48.7,67.0)(49.5,67.9)(50.1,67.0)(50.7,68.1)(51.7,67.4)(52.9,68.3)(53.5,69.7)(54.1,67.4)(55.1,68.8)(56.0,67.0)(56.9,68.3)(57.9,67.4)(58.2,67.9)
(43.9,65.6)(44.7,66.1)(43.8,64.3)(44.7,62.1)(44.9,60.7)(46.1,61.2)(46.6,60.5)(47.6,63.4)(48.4,64.3)(48.6,63.0)(49.3,62.5)(50.4,64.1)(51.0,63.2)(51.8,63.9)(52.6,64.3)(53.2,63.2)(54.1,65.2)(54.8,63.9)(55.7,64.8)(56.6,65.6)(57.5,64.8)(58.2,63.4)
(43.8,58.5)(45.4,58.0)(46.7,57.8)(47.3,58.3)(47.9,58.0)(46.4,56.7)(47.5,56.5)(48.6,56.7)(49.5,59.4)(50.3,59.6)(51.4,59.2)(52.3,60.0)(53.2,58.5)(54.1,59.2)(55.1,58.0)(56.0,58.9)(56.9,57.1)(57.9,58.5)
(44.7,54.5)(46.4,54.0)(47.3,53.6)(47.5,52.7)(48.4,55.4)(48.7,54.0)(48.9,53.3)(50.6,54.9)(51.5,55.8)(52.9,54.7)(53.8,55.8)(54.8,54.5)(55.7,55.4)(56.8,54.2)(57.5,53.6)(58.3,54.9)
(43.9,50.9)(46.1,50.2)(43.6,48.0)(48.7,50.9)(49.8,51.3)(48.7,49.5)(51.4,52.0)(52.6,51.8)(53.8,51.8)(55.4,50.9)(56.0,49.5)(57.2,51.8)(57.7,50.4)(50.1,48.0)(51.7,48.2)(52.4,48.0)(53.2,47.8)(53.8,49.1)(54.6,48.4)(55.4,46.6)(56.2,46.4)(56.9,48.0)(57.5,48.4)(58.0,46.0)(58.3,46.6)
(45.5,46.6)(47.2,45.2)(44.1,44.2)(51.4,45.7)(52.0,44.6)(52.8,45.2)(53.8,45.3)(46.3,41.6)(47.7,41.6)(51.7,41.0)(51.5,40.6)(52.0,42.2)(53.8,42.8)(54.3,42.2)(55.1,41.5)(56.7,39.2)(47.6,34.8)(57.5,44.4)(54.3,95.4)
(57.9,70.3)(58.1,69.1)(57.6,68.6)(57.2,70.1)(56.8,71.2)(56.3,69.4)(55.9,70.6)(55.4,69.9)(54.9,71.3)(54.5,70.0)(54.0,68.9)(53.6,70.8)(58.0,74.6)(57.5,75.9)(57.0,74.1)(56.5,72.5)(55.9,73.6)(55.2,76.4)(54.6,77.8)(53.9,74.7)(58.2,77.9)(57.8,78.8)(57.1,79.9)(56.4,78.3)(55.8,77.2)(55.0,79.2)(54.3,78.6)(53.2,80.8)(58.1,82.9)(57.4,83.8)(56.7,82.3)(55.6,81.0)(54.8,82.5)
(58.0,61.9)(57.6,62.8)(57.1,61.4)(56.5,62.6)(55.9,61.1)(55.3,62.2)(54.7,61.6)(54.0,62.9)(53.4,61.4)(58.2,59.8)(57.7,60.6)(57.0,59.3)(56.2,60.4)(55.5,59.9)(58.1,56.7)(57.5,57.4)(56.9,56.2)(56.3,57.0)(55.6,56.7)(54.8,57.5)(58.2,52.3)(57.8,53.1)(57.2,52.0)(56.5,53.4)(55.8,52.5)(58.0,49.9)(57.3,49.2)(56.4,50.5)(55.7,51.1)(58.2,85.6)(57.3,86.2)(56.6,85.0)
(52.5,66.3)(51.9,69.0)(53.0,72.0)(50.8,73.6)(49.6,69.2)(51.3,57.4)(52.0,58.1)(53.6,56.6)(47.8,70.4)(46.9,63.9)(45.3,64.7)(44.2,68.2)(43.1,61.8)(42.0,55.8)(41.2,51.0)(43.4,46.1)(45.0,49.3)
(58.1,65.9)(57.4,66.5)(56.7,64.1)(55.5,66.8)(54.4,66.0)(53.7,64.4)(58.2,71.5)(57.3,73.0)(56.2,74.8)(55.3,71.9)(58.0,64.4)(57.0,63.3)(56.1,65.2)(55.0,60.3)(57.7,55.0)
(58.1,75.3)(57.7,77.2)(57.2,76.6)(56.6,77.9)(56.0,79.5)(55.5,78.4)(54.9,76.0)(54.2,73.9)(53.5,77.6)(52.7,75.5)(58.2,81.6)(57.5,81.0)(56.9,84.6)(56.1,83.4)(55.3,83.9)(54.0,83.2)(53.4,82.4)(52.2,81.2)(58.0,88.4)(57.1,88.9)(55.9,86.6)(55.0,87.9)(58.2,73.6)(57.8,71.0)(57.4,69.5)(56.6,70.3)(55.7,68.2)(54.7,69.1)(53.8,67.9)(52.8,69.5)(51.6,71.9)
(58.1,66.8)(57.7,65.2)(57.0,67.7)(56.4,66.3)(55.8,63.6)(55.0,65.5)(54.2,64.0)(53.3,65.8)(52.4,62.5)(58.2,62.1)(57.5,61.0)(56.8,60.0)(56.1,61.8)(55.3,58.6)(54.4,60.4)(53.6,59.6)(58.0,58.2)(57.3,58.9)(56.6,55.9)(55.9,54.8)(55.1,56.3)(54.2,56.9)(58.1,51.2)(57.4,52.7)(56.7,51.4)(55.6,49.6)(54.9,50.8)(58.2,48.7)(56.8,47.2)
};
\addlegendentry{Bottom 10\% on Test 1}
% No regression line
\addplot[color=dashc, line width=1.5pt, dash pattern=on 5.55pt off 2.4pt, myleglinee]
coordinates {(18.07,18.07)(117.65,117.65)};
\addlegendentry{No regression (slope = 1)}
% Actual trend
\addplot[color=goldc, line width=2pt, myleglinee]
coordinates {(18.07,53.3)(117.65,91.14)};
\addlegendentry{Actual trend (slope = 0.38)\hspace{3.5pt}}
\end{axis}
\end{tikzpicture}
\end{document}
